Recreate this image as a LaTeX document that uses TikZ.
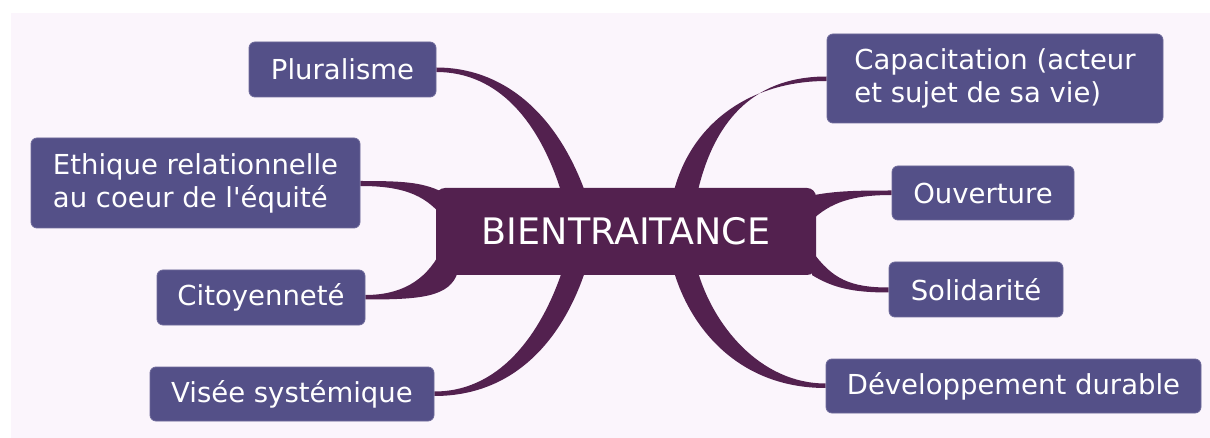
\documentclass[tikz,border=0pt]{standalone}
\usepackage{fontspec}
\setmainfont{DejaVu Sans}[Ligatures=TeXOff]
\usetikzlibrary{calc}
\definecolor{bgc}{HTML}{FBF5FC}
\definecolor{leaf}{HTML}{545088}
\definecolor{core}{HTML}{53214F}
\pgfdeclarelayer{bg}
\pgfsetlayers{bg,main}
\tikzset{
  leafnode/.style={fill=leaf, draw=leaf!85!white, line width=0.8pt, rounded corners=6pt, text=white, inner sep=0pt,
    font=\fontsize{27.5}{33}\selectfont, align=left},
  corenode/.style={fill=core, rounded corners=9pt, text=white, inner sep=0pt,
    font=\fontsize{36.5}{40}\selectfont, minimum width=380pt, minimum height=87pt},
  branch/.style={fill=core}
}
\begin{document}
\begin{tikzpicture}[x=1pt,y=-1pt]
\useasboundingbox (0,0) rectangle (1210,438);
\begin{pgfonlayer}{bg}
\fill[bgc] (11,13) rectangle (1210,438);
\end{pgfonlayer}
\node[corenode] (c) at (626,231.5) {BIENTRAITANCE};
\node[leafnode, minimum width=187pt, minimum height=55pt] (plu) at (342.5,69.5) {Pluralisme};
\node[leafnode, minimum width=329pt, minimum height=90pt] (eth) at (195.5,183) {Ethique relationnelle\\au coeur de l'équité};
\node[leafnode, minimum width=208pt, minimum height=55pt] (cit) at (261,297.5) {Citoyenneté};
\node[leafnode, minimum width=284pt, minimum height=54pt] (vis) at (292,394) {Visée systémique};
\node[leafnode, minimum width=336pt, minimum height=89pt] (cap) at (995,78.5) {Capacitation (acteur\\et sujet de sa vie)};
\node[leafnode, minimum width=182pt, minimum height=54pt] (ouv) at (983,193) {Ouverture};
\node[leafnode, minimum width=174pt, minimum height=55pt] (sol) at (976,289.5) {Solidarité};
\node[leafnode, minimum width=375pt, minimum height=54pt] (dev) at (1013.5,386) {Développement durable};
\begin{pgfonlayer}{bg}
% Pluralisme
\fill[branch] ($(plu.east)+(0,-2)$) .. controls +(64,0) and +(-30,-84) .. ($(c.north west)+(150,6)$)
  -- ($(c.north west)+(126,6)$) .. controls +(-22,-72) and +(62,0) .. ($(plu.east)+(0,2.5)$) -- cycle;
% Capacitation
\fill[branch] ($(cap.west)+(0,-2)$) .. controls +(-67,0) and +(18,-80) .. ($(c.north east)+(-119,6)$)
  -- ($(c.north east)+(-143,6)$) .. controls +(17,-70) and +(-77,0) .. ($(cap.west)+(0,2.5)$) -- cycle;
% Visee
\fill[branch] ($(vis.east)+(0,2)$) .. controls +(86,0) and +(-20,62) .. ($(c.south west)+(150,-6)$)
  -- ($(c.south west)+(127,-6)$) .. controls +(-18,55) and +(71,0) .. ($(vis.east)+(0,-2.5)$) -- cycle;
% Developpement
\fill[branch] ($(dev.west)+(0,2)$) .. controls +(-86,0) and +(17,60) .. ($(c.south east)+(-143,-6)$)
  -- ($(c.south east)+(-119,-6)$) .. controls +(15,55) and +(-66,0) .. ($(dev.west)+(0,-2.5)$) -- cycle;
% Ethique
\fill[branch] ($(eth.east)+(0,-2)$) .. controls +(40,0) and +(-20,-10) .. ($(c.north west)+(6,4)$)
  -- ($(c.north west)+(6,28)$) .. controls +(-18,-22) and +(40,0) .. ($(eth.east)+(0,3)$) -- cycle;
% Citoyennete
\fill[branch] ($(cit.east)+(0,2)$) .. controls +(55,0) and +(-8,25) .. ($(c.south west)+(22,-3)$)
  -- ($(c.south west)+(4,-22)$) .. controls +(-15,28) and +(35,0) .. ($(cit.east)+(0,-2.5)$) -- cycle;
% Ouverture
\fill[branch] ($(ouv.west)+(0,-2.5)$) .. controls +(-35,0) and +(25,-5) .. ($(c.north east)+(-6,8)$)
  -- ($(c.north east)+(-6,34)$) .. controls +(20,-20) and +(-38,0) .. ($(ouv.west)+(0,2)$) -- cycle;
% Solidarite
\fill[branch] ($(sol.west)+(0,3)$) .. controls +(-38,0) and +(20,12) .. ($(c.south east)+(-4,0)$)
  -- ($(c.south east)+(-4,-24)$) .. controls +(20,28) and +(-38,0) .. ($(sol.west)+(0,-2)$) -- cycle;
\end{pgfonlayer}
\end{tikzpicture}
\end{document}
